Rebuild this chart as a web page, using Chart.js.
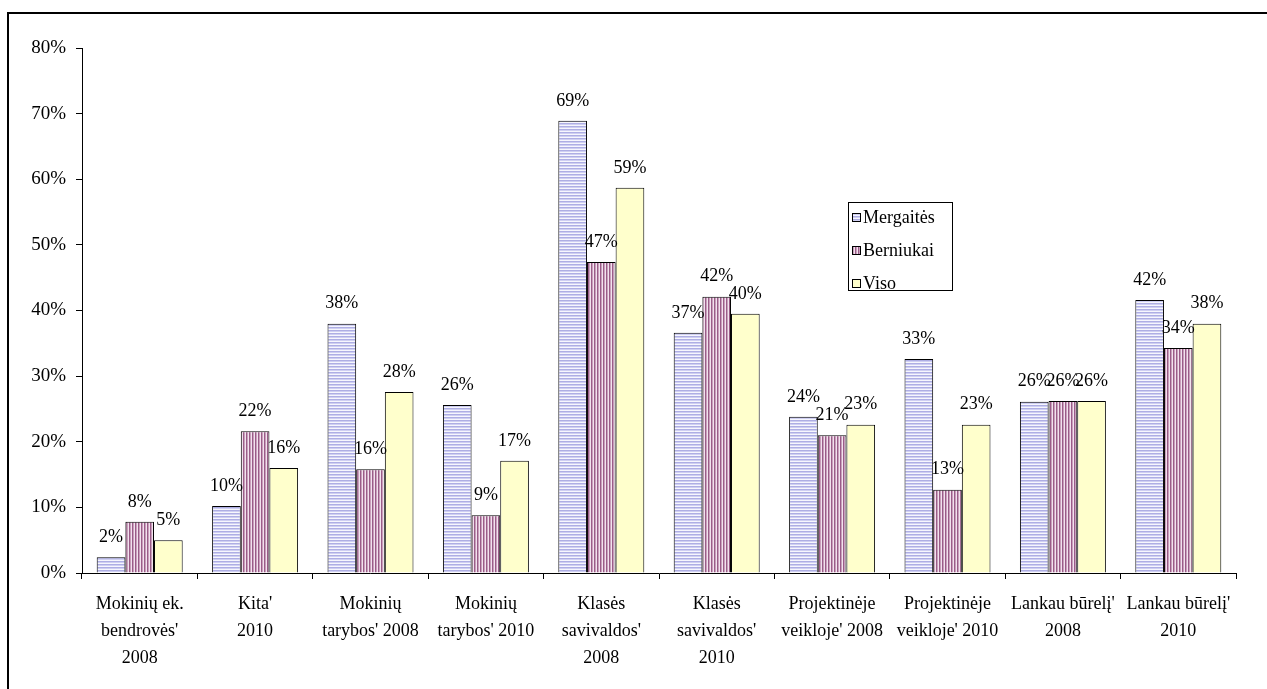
<!DOCTYPE html>
<html>
<head>
<meta charset="utf-8">
<script src="https://cdn.jsdelivr.net/npm/chart.js@4.4.1/dist/chart.umd.min.js"></script>
<style>
  html, body { margin: 0; padding: 0; background: #fff; }
  #wrap { position: relative; width: 1267px; height: 689px; overflow: hidden; }
  #frame { position: absolute; left: 7px; top: 12px; width: 1300px; height: 700px;
           border-top: 2px solid #000; border-left: 2px solid #000; }
  #c { position: absolute; left: 0; top: 0; }
</style>
</head>
<body>
<div id="wrap">
  <div id="frame"></div>
  <canvas id="c" width="1267" height="689"></canvas>
</div>
<script>
  // categories (multi-line, as in the original)
  const categories = [
    ['Mokinių ek.', "bendrovės'", '2008'],
    ["Kita'", '2010'],
    ['Mokinių', "tarybos' 2008"],
    ['Mokinių', "tarybos' 2010"],
    ['Klasės', "savivaldos'", '2008'],
    ['Klasės', "savivaldos'", '2010'],
    ['Projektinėje', "veikloje' 2008"],
    ['Projektinėje', "veikloje' 2010"],
    ["Lankau būrelį'", '2008'],
    ["Lankau būrelį'", '2010']
  ];
  const seriesNames = ['Mergaitės', 'Berniukai', 'Viso'];

  // values in %
  const mergaites = [2.4, 10.2, 38.0, 25.6, 68.9, 36.6, 23.8, 32.6, 26.1, 41.6];
  const berniukai = [7.8, 21.6, 15.8, 8.8, 47.4, 42.1, 21.0, 12.7, 26.2, 34.3];
  const viso      = [5.0, 16.0, 27.6, 17.1, 58.7, 39.5, 22.6, 22.6, 26.2, 38.0];

  const yTicks = [0, 10, 20, 30, 40, 50, 60, 70, 80];

  const FONT = '"Liberation Serif", "Times New Roman", serif';
  const canvas = document.getElementById('c');
  const ctx = canvas.getContext('2d');

  function makePattern(w, h, draw) {
    const pc = document.createElement('canvas');
    pc.width = w; pc.height = h;
    draw(pc.getContext('2d'));
    return ctx.createPattern(pc, 'repeat');
  }

  // horizontal lavender stripes
  const girlsFill = makePattern(1, 3, function(g) {
    g.fillStyle = '#aeaee4'; g.fillRect(0, 0, 1, 1);
    g.fillStyle = '#cfcff2'; g.fillRect(0, 1, 1, 1);
    g.fillStyle = '#f6f6fd'; g.fillRect(0, 2, 1, 1);
  });
  // vertical maroon stripes
  const boysFill = makePattern(3, 1, function(g) {
    g.fillStyle = '#9a5c88'; g.fillRect(0, 0, 1, 1);
    g.fillStyle = '#c9a0bc'; g.fillRect(1, 0, 1, 1);
    g.fillStyle = '#f2e2ee'; g.fillRect(2, 0, 1, 1);
  });
  const totalFill = '#ffffcc';

  const valueLabels = {
    id: 'valueLabels',
    afterDatasetsDraw: function(chart) {
      const c = chart.ctx;
      c.save();
      c.font = '18px ' + FONT;
      c.fillStyle = '#000';
      c.textAlign = 'center';
      c.textBaseline = 'middle';
      chart.data.datasets.forEach(function(ds, i) {
        chart.getDatasetMeta(i).data.forEach(function(bar, j) {
          c.fillText(Math.round(ds.data[j]) + '%', bar.x, bar.y - 20);
        });
      });
      c.restore();
    }
  };

  const boxLegend = {
    id: 'boxLegend',
    afterDraw: function(chart) {
      const c = chart.ctx;
      const x = 848, y = 202, w = 104, h = 88;
      c.save();
      c.fillStyle = '#fff';
      c.fillRect(x, y, w, h);
      c.strokeStyle = '#000';
      c.lineWidth = 1;
      c.strokeRect(x + 0.5, y + 0.5, w, h);
      c.font = '18px ' + FONT;
      c.textBaseline = 'middle';
      chart.data.datasets.forEach(function(ds, i) {
        const cy = y + 15 + i * 33;
        c.fillStyle = ds.backgroundColor;
        c.fillRect(852, cy - 4, 8, 8);
        c.strokeRect(852.5, cy - 3.5, 8, 8);
        c.fillStyle = '#000';
        c.fillText(ds.label, 863, cy + 1);
      });
      c.restore();
    }
  };

  new Chart(ctx, {
    type: 'bar',
    data: {
      labels: categories,
      datasets: [
        { label: seriesNames[0], data: mergaites, backgroundColor: girlsFill, borderColor: '#000', borderWidth: 1 },
        { label: seriesNames[1], data: berniukai, backgroundColor: boysFill, borderColor: '#000', borderWidth: 1 },
        { label: seriesNames[2], data: viso, backgroundColor: totalFill, borderColor: '#000', borderWidth: 1 }
      ]
    },
    options: {
      responsive: false,
      animation: false,
      layout: { padding: { top: 48, left: 0, right: 31, bottom: 0 } },
      datasets: { bar: { categoryPercentage: 0.745, barPercentage: 1 } },
      plugins: {
        legend: { display: false },
        tooltip: { enabled: false }
      },
      scales: {
        x: {
          afterFit: function(scale) { scale.height = 116; },
          grid: { drawOnChartArea: false, tickLength: 6, color: '#000', offset: true },
          border: { color: '#000', width: 1 },
          ticks: { color: '#000', font: { family: FONT, size: 18, lineHeight: 1.5 },
                   padding: 12, maxRotation: 0, autoSkip: false }
        },
        y: {
          min: 0, max: 80,
          afterFit: function(scale) { scale.width = 82; },
          afterBuildTicks: function(scale) { scale.ticks = yTicks.map(function(v) { return { value: v }; }); },
          grid: { drawOnChartArea: false, tickLength: 6, color: '#000' },
          border: { color: '#000', width: 1 },
          ticks: { color: '#000', font: { family: FONT, size: 19 }, padding: 10,
                   callback: function(v) { return v + '%'; } }
        }
      }
    },
    plugins: [valueLabels, boxLegend]
  });
</script>
</body>
</html>
